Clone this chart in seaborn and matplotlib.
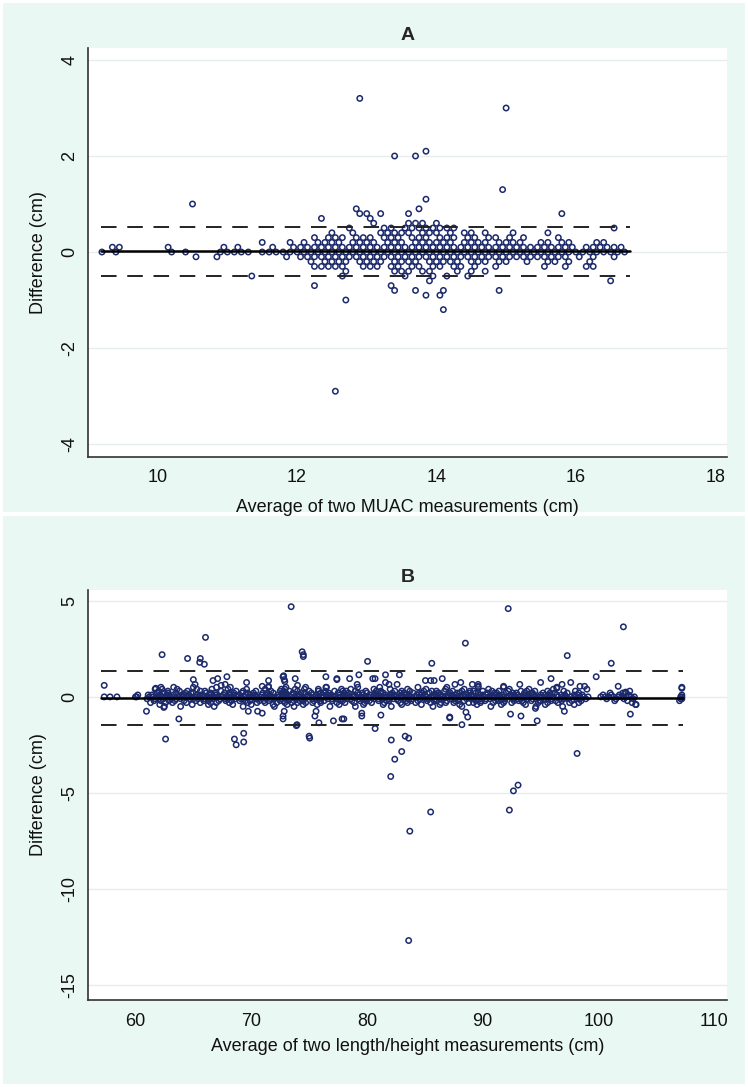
import numpy as np
import pandas as pd
import seaborn as sns
import matplotlib.pyplot as plt
from matplotlib.patches import Rectangle

# ---- Panel A: MUAC (cm), points grouped by difference level ----
a_row_0 = [9.2, 9.4, 10.2, 10.4, 10.9, 11.0, 11.1, 11.2, 11.3, 11.5, 11.6, 11.7, 11.8, 11.9,
           12.0, 12.1, 12.2, 12.3, 12.4, 12.5, 12.6, 12.7, 12.8, 12.9, 13.0, 13.1, 13.2, 13.3,
           13.4, 13.5, 13.6, 13.7, 13.8, 13.9, 14.0, 14.1, 14.2, 14.3, 14.4, 14.5, 14.6, 14.7,
           14.8, 14.9, 15.0, 15.1, 15.2, 15.3, 15.4, 15.5, 15.6, 15.7, 15.8, 15.9, 16.0, 16.1,
           16.2, 16.3, 16.4, 16.5, 16.6, 16.7]
a_row_p1 = [9.35, 9.45, 10.15, 10.95, 11.15, 11.65, 11.95, 12.05, 12.15, 12.25, 12.35, 12.45,
            12.55, 12.65, 12.75, 12.85, 12.95, 13.05, 13.15, 13.25, 13.35, 13.45, 13.55, 13.65,
            13.75, 13.85, 13.95, 14.05, 14.15, 14.25, 14.35, 14.45, 14.55, 14.65, 14.75, 14.85,
            14.95, 15.05, 15.15, 15.25, 15.35, 15.45, 15.55, 15.65, 15.75, 15.85, 15.95, 16.15,
            16.25, 16.35, 16.45, 16.55, 16.65]
a_row_m1 = [10.55, 10.85, 11.85, 12.05, 12.15, 12.25, 12.35, 12.45, 12.55, 12.65, 12.75, 12.85,
            12.95, 13.05, 13.15, 13.25, 13.35, 13.45, 13.55, 13.65, 13.75, 13.85, 13.95, 14.05,
            14.15, 14.25, 14.35, 14.45, 14.55, 14.65, 14.75, 14.85, 14.95, 15.05, 15.15, 15.25,
            15.35, 15.45, 15.55, 15.65, 15.75, 15.85, 16.05, 16.25, 16.55]
a_row_p2 = [11.5, 11.9, 12.1, 12.3, 12.4, 12.5, 12.6, 12.8, 12.9, 13.0, 13.1, 13.3, 13.4, 13.5,
            13.7, 13.8, 13.9, 14.0, 14.1, 14.2, 14.4, 14.5, 14.6, 14.7, 14.9, 15.0, 15.1, 15.2,
            15.5, 15.6, 15.8, 15.9, 16.3, 16.4]
a_row_m2 = [12.2, 12.4, 12.5, 12.6, 12.7, 12.9, 13.0, 13.1, 13.2, 13.4, 13.5, 13.6, 13.7, 13.9,
            14.0, 14.1, 14.2, 14.3, 14.5, 14.6, 14.7, 14.9, 15.0, 15.3, 15.6, 15.7, 15.9, 16.2]
a_row_p3 = [12.25, 12.45, 12.55, 12.65, 12.85, 12.95, 13.05, 13.25, 13.35, 13.45, 13.65, 13.75,
            13.85, 14.05, 14.15, 14.25, 14.45, 14.55, 14.75, 14.85, 15.05, 15.25, 15.75]
a_row_m3 = [12.25, 12.35, 12.45, 12.55, 12.65, 12.95, 13.05, 13.15, 13.35, 13.45, 13.65, 13.75,
            13.95, 14.05, 14.25, 14.35, 14.55, 14.85, 15.55, 15.85, 16.15, 16.25]
a_row_p4 = [12.5, 12.8, 13.2, 13.3, 13.4, 13.5, 13.6, 13.8, 13.9, 14.0, 14.2, 14.4, 14.5, 14.7,
            15.1, 15.6]
a_row_m4 = [12.7, 13.4, 13.5, 13.6, 13.8, 13.9, 14.3, 14.5, 14.7]
a_row_p5 = [12.75, 13.25, 13.35, 13.55, 13.65, 13.75, 13.85, 13.95, 14.05, 14.15, 14.25, 16.55]
a_row_m5 = [11.35, 12.65, 13.55, 13.95, 14.15, 14.45]
a_out_avg = [13.1, 13.6, 13.7, 13.8, 14.0, 12.35, 13.05, 12.9, 13.0, 13.2, 13.6, 15.8,
             12.85, 13.75, 10.5, 13.85, 14.95, 13.4, 13.7, 13.85, 12.9, 15.0,
             13.9, 16.5, 12.25, 13.35, 13.4, 13.7, 14.1, 14.9, 13.85, 14.05, 12.7, 14.1, 12.55]
a_out_diff = [0.6, 0.6, 0.6, 0.6, 0.6, 0.7, 0.7, 0.8, 0.8, 0.8, 0.8, 0.8,
              0.9, 0.9, 1.0, 1.1, 1.3, 2.0, 2.0, 2.1, 3.2, 3.0,
              -0.6, -0.6, -0.7, -0.7, -0.8, -0.8, -0.8, -0.8, -0.9, -0.9, -1.0, -1.2, -2.9]
a_mean, a_upper, a_lower = 0.02, 0.53, -0.49

# ---- Panel B: length/height (cm) ----
b_row_0 = [57.3, 57.8, 58.4, 60.0, 60.1, 61.2, 61.5, 61.8, 62.0, 62.3, 62.6, 63.0, 63.4, 63.8,
           64.1, 64.4, 64.8, 65.1, 65.5, 65.9, 66.2, 66.5, 66.8, 67.1, 67.5, 67.8, 68.1, 68.4,
           68.8, 69.1, 69.4, 69.8, 70.1, 70.5, 70.8, 71.1, 71.4, 71.8, 72.1, 72.4, 72.8, 73.1,
           73.4, 73.8, 74.1, 74.4, 74.8, 75.1, 75.5, 75.8, 76.1, 76.5, 76.8, 77.1, 77.5, 77.8,
           78.1, 78.5, 78.8, 79.1, 79.5, 79.8, 80.1, 80.5, 80.8, 81.1, 81.5, 81.8, 82.1, 82.5,
           82.8, 83.1, 83.5, 83.8, 84.1, 84.5, 84.8, 85.1, 85.5, 85.8, 86.1, 86.5, 86.8, 87.1,
           87.5, 87.8, 88.1, 88.5, 88.8, 89.1, 89.5, 89.8, 90.1, 90.5, 90.8, 91.1, 91.5, 91.8,
           92.1, 92.5, 92.8, 93.1, 93.5, 93.8, 94.1, 94.5, 94.8, 95.1, 95.5, 95.8, 96.1, 96.5,
           96.9, 97.2, 97.6, 98.0, 98.4, 98.7, 99.1, 100.2, 100.6, 100.9, 101.3, 101.7, 102.0,
           102.4, 102.8, 103.1, 107.1, 107.2]
b_row_p1 = [60.2, 61.4, 62.1, 62.7, 63.3, 64.0, 64.6, 65.3, 65.8, 66.4, 67.0, 67.6, 68.2, 68.9,
            69.5, 70.3, 70.9, 71.6, 72.3, 72.9, 73.5, 74.2, 74.9, 75.6, 76.2, 76.9, 77.6, 78.3,
            78.9, 79.6, 80.3, 80.9, 81.6, 82.3, 83.0, 83.6, 84.3, 85.0, 85.7, 86.3, 87.0, 87.7,
            88.3, 89.0, 89.7, 90.3, 91.0, 91.7, 92.4, 93.0, 93.7, 94.4, 95.0, 95.7, 96.4, 97.1,
            97.9, 98.6, 100.4, 101.1, 101.8, 102.6, 107.2,
            61.1, 62.9, 64.2, 65.6, 66.9, 68.5, 69.9, 71.3, 72.7, 74.0, 75.3, 76.6, 78.0, 79.3,
            80.6, 82.0, 83.3, 84.7, 86.0, 87.3, 88.7, 90.0, 91.4, 92.7, 94.0, 95.4, 96.8, 98.2]
b_row_m1 = [61.0, 61.7, 62.4, 63.1, 63.9, 64.7, 65.4, 66.0, 66.7, 67.3, 68.0, 68.6, 69.3, 70.0,
            70.6, 71.3, 72.0, 72.6, 73.3, 73.9, 74.6, 75.3, 75.9, 76.6, 77.3, 77.9, 78.6, 79.3,
            79.9, 80.6, 81.3, 81.9, 82.6, 83.3, 83.9, 84.6, 85.3, 85.9, 86.6, 87.3, 87.9, 88.6,
            89.3, 89.9, 90.6, 91.3, 91.9, 92.6, 93.3, 93.9, 94.6, 95.3, 96.0, 96.7, 97.4, 98.1,
            98.9, 100.7, 101.5, 102.2, 103.0, 107.1,
            62.0, 63.5, 65.0, 66.4, 67.8, 69.1, 70.4, 71.7, 73.0, 74.3, 75.6, 77.0, 78.3, 79.6,
            81.0, 82.3, 83.6, 85.0, 86.3, 87.6, 89.0, 90.3, 91.6, 93.0, 94.3, 95.6, 97.0, 98.4]
b_row_p2 = [61.9, 62.5, 63.5, 64.3, 65.0, 66.1, 66.9, 67.7, 68.5, 69.2, 70.2, 71.0, 71.9, 72.7,
            73.0, 73.6, 74.3, 75.2, 76.0, 76.7, 77.5, 78.4, 79.2, 80.0, 80.7, 81.4, 82.2, 83.2,
            84.0, 84.7, 85.4, 86.2, 87.2, 88.0, 88.9, 89.6, 90.4, 91.2, 92.0, 92.9, 93.6, 94.3,
            95.2, 96.2, 97.3, 98.3, 101.0, 102.1, 102.3,
            62.8, 64.8, 66.5, 68.1, 69.7, 71.4, 72.9, 74.6, 76.3, 78.0, 79.6, 81.2, 82.9, 84.5,
            86.1, 87.8, 89.4, 91.0, 92.6, 94.2, 95.8]
b_row_m2 = [61.6, 62.2, 62.9, 64.2, 65.2, 66.3, 67.2, 68.3, 69.0, 69.9, 70.7, 71.5, 72.5, 73.2,
            73.7, 74.5, 75.4, 76.3, 77.0, 77.7, 78.7, 79.4, 80.2, 81.0, 81.7, 82.7, 83.4, 84.4,
            85.2, 86.0, 86.9, 87.6, 88.4, 89.4, 90.2, 91.1, 91.9, 92.7, 93.4, 94.2, 95.0, 95.9,
            96.8, 97.7, 98.5, 101.4, 102.5, 107.0,
            63.4, 65.9, 67.8, 69.5, 71.1, 72.8, 74.2, 76.0, 77.9, 79.9, 81.9, 83.8, 85.8, 87.9,
            89.9, 91.4, 93.1, 94.9, 96.3]
b_row_p3 = [62.0, 62.8, 64.5, 66.0, 67.4, 68.7, 70.4, 71.7, 72.8, 73.3, 74.0, 75.0, 76.4, 77.2,
            78.2, 79.0, 79.9, 81.2, 82.4, 83.7, 84.9, 85.6, 86.7, 87.4, 88.2, 89.2, 90.0, 91.4,
            92.2, 93.3, 94.5, 95.6, 97.0, 98.0, 102.7,
            63.8, 65.6, 69.3, 72.5, 75.8, 77.9, 80.8, 83.0, 86.0, 88.9, 90.8, 93.8]
b_row_m3 = [61.3, 62.6, 63.2, 65.6, 67.0, 68.1, 69.7, 71.2, 72.2, 72.9, 74.0, 74.7, 76.0, 77.4,
            78.9, 80.4, 81.5, 82.9, 84.2, 85.5, 86.4, 87.5, 88.8, 89.8, 90.9, 92.5, 93.5, 94.8,
            96.5, 97.5, 98.3, 102.9,
            64.4, 66.5, 70.5, 73.5, 75.3, 78.1, 79.8, 83.5, 86.8, 89.2, 91.8, 95.6]
b_row_p4 = [61.7, 62.3, 63.6, 65.3, 66.6, 68.0, 69.6, 71.2, 72.6, 72.9, 73.8, 74.6, 75.8, 77.8,
            78.6, 80.6, 82.0, 83.5, 85.1, 86.8, 88.4, 90.5, 92.3, 94.0, 96.1, 99.0]
b_row_m4 = [62.1, 64.9, 66.3, 68.4, 70.0, 71.9, 73.1, 74.5, 75.7, 77.6, 79.7, 81.4, 83.0, 84.7,
            86.3, 88.0, 89.5, 91.6, 93.7, 95.4, 97.9, 103.2]
b_row_p5 = [62.2, 63.3, 65.0, 67.0, 68.2, 71.5, 73.0, 74.7, 76.5, 79.2, 81.1, 84.4, 86.9, 89.6,
            91.8, 96.4, 107.2]
b_row_m5 = [62.5, 63.9, 66.8, 69.3, 72.0, 73.7, 76.8, 79.0, 82.1, 85.7, 88.2, 90.7, 94.6, 96.9]
b_out_avg = [57.3, 60.95, 61.75, 62.3, 62.6, 62.45, 63.75, 64.5, 65.0, 65.15, 65.55, 65.6, 65.95,
             66.05, 66.7, 67.1, 67.4, 67.75, 67.9, 68.55, 68.7, 69.35, 69.35, 69.6, 69.75, 70.55,
             70.95, 70.95, 71.5, 71.5, 72.75, 72.75, 72.85, 72.75, 72.8, 72.85, 72.9, 73.45, 73.8,
             73.9, 73.95, 74.0, 74.4, 74.5, 74.5, 75.0, 75.05, 75.5, 75.6, 75.85, 76.45, 76.45,
             77.1, 77.4, 77.4, 77.85, 78.0, 78.5, 79.3, 79.15, 79.55, 79.55, 80.05, 80.5, 80.7,
             80.7, 81.2, 81.6, 81.6, 81.9, 82.1, 82.05, 82.4, 82.6, 82.8, 83.0, 83.3, 83.6,
             85.6, 85.05, 85.5, 85.8, 86.5, 87.15, 87.15, 87.6, 88.1, 88.2, 88.5, 88.7, 88.55,
             89.1, 89.6, 89.6, 91.8, 92.2, 92.4, 93.2, 93.3, 94.55, 94.7, 95.0, 95.9, 96.4, 96.85,
             97.05, 97.3, 97.6, 98.15, 98.4, 98.8, 99.8, 101.1, 101.7, 102.15, 102.35, 102.75,
             103.25, 107.2, 107.2, 83.6, 83.7, 85.5, 92.3, 92.65, 93.05]
b_out_diff = [0.6, -0.75, 0.45, 2.2, -2.2, -0.55, -1.15, 2.0, 0.9, 0.65, 1.8, 2.0, 1.7,
              3.1, 0.85, 0.95, 0.6, 0.65, 1.05, -2.2, -2.5, -1.9, -2.35, 0.75, -0.75, -0.75,
              -0.85, 0.55, 0.55, 0.85, -1.0, -1.15, -0.75, 1.05, 1.1, 0.9, 0.8, 4.7, 0.95,
              -1.5, -1.45, 0.6, 2.35, 2.2, 2.1, -2.05, -2.15, -1.0, -0.75, -1.35, 1.05, 0.5,
              -1.25, 0.9, 0.95, -1.15, -1.15, 0.95, 1.15, 0.65, -0.85, -1.0, 1.85, 0.95, 0.95,
              -1.65, -0.95, 1.15, 0.75, 0.65, -2.25, -4.15, -3.25, 0.65, 1.15, -2.85, -2.05, -2.15,
              1.75, 0.85, 0.85, 0.85, 0.95, -1.05, -1.1, 0.65, 0.75, -1.45, 2.8, -1.05, -0.8,
              0.65, 0.65, 0.55, 0.55, 4.6, -0.9, 0.65, -1.0, -0.6, -1.25, 0.75, 0.95, 0.45, 0.65,
              -0.75, 2.15, 0.75, -2.95, 0.55, 0.55, 1.05, 1.75, 0.55, 3.65, 0.25, -0.9,
              -0.4, 0.45, -0.1, -12.7, -7.0, -6.0, -5.9, -4.9, -4.6]
b_mean, b_upper, b_lower = -0.05, 1.37, -1.48


def build(rows, out_avg, out_diff):
    frames = [pd.DataFrame({"avg": xs, "diff": d}) for d, xs in rows]
    frames.append(pd.DataFrame({"avg": out_avg, "diff": out_diff}))
    return pd.concat(frames, ignore_index=True)


df_a = build([(0.0, a_row_0), (0.1, a_row_p1), (-0.1, a_row_m1), (0.2, a_row_p2),
              (-0.2, a_row_m2), (0.3, a_row_p3), (-0.3, a_row_m3), (0.4, a_row_p4),
              (-0.4, a_row_m4), (0.5, a_row_p5), (-0.5, a_row_m5)], a_out_avg, a_out_diff)
df_b = build([(0.0, b_row_0), (0.1, b_row_p1), (-0.1, b_row_m1), (0.2, b_row_p2),
              (-0.2, b_row_m2), (0.3, b_row_p3), (-0.3, b_row_m3), (0.4, b_row_p4),
              (-0.4, b_row_m4), (0.5, b_row_p5), (-0.5, b_row_m5)], b_out_avg, b_out_diff)

sns.set_theme(style="white")
plt.rcParams["font.family"] = ["Liberation Sans", "DejaVu Sans"]

mint = "#eaf8f4"
navy = "#1c2a6c"
W, H = 748, 1087
fig = plt.figure(figsize=(W / 100, H / 100), dpi=100, facecolor="white")

# mint panels (two stacked graphs), drawn behind the axes
for top, bot in [(3, 512), (516, 1084)]:
    fig.patches.append(Rectangle((3 / W, 1 - bot / H), 742 / W, (bot - top) / H,
                                 transform=fig.transFigure, facecolor=mint,
                                 edgecolor="none", zorder=-10))


def panel(rect, df, xlim, ylim, xticks, yticks, title, xlabel, lines, xspan, xlab_y):
    l, t, r, b = rect
    ax = fig.add_axes([l / W, 1 - b / H, (r - l) / W, (b - t) / H])
    ax.set_facecolor("white")
    for y in yticks:
        ax.axhline(y, color="#e6ebeb", lw=1.0, zorder=0)
    sns.scatterplot(data=df, x="avg", y="diff", ax=ax, marker="o", s=15,
                    facecolors="none", edgecolor=navy, linewidth=1.1, zorder=3)
    mean, up, lo = lines
    ax.plot(xspan, [mean, mean], color="black", lw=1.8, zorder=4)
    ax.plot(xspan, [up, up], color="#222222", lw=1.4, ls=(0, (8, 5.5)), zorder=4)
    ax.plot(xspan, [lo, lo], color="#222222", lw=1.4, ls=(0, (8, 5.5)), zorder=4)
    ax.set_xlim(*xlim)
    ax.set_ylim(*ylim)
    ax.set_xticks(xticks)
    ax.set_yticks(yticks)
    ax.set_yticklabels([str(v) for v in yticks], rotation=90, va="center")
    for s in ["top", "right"]:
        ax.spines[s].set_visible(False)
    for s in ["left", "bottom"]:
        ax.spines[s].set_color("#333333")
        ax.spines[s].set_linewidth(1.2)
    ax.tick_params(axis="both", direction="out", length=5, width=1.1, color="#333333",
                   labelsize=13, labelcolor="#111111", pad=4)
    ax.tick_params(axis="y", pad=2)
    ax.set_title(title, fontsize=14, fontweight="bold", pad=6)
    ax.set_xlabel(xlabel, fontsize=13, color="#111111")
    ax.set_ylabel("Difference (cm)", fontsize=13, color="#111111")
    ax.xaxis.set_label_coords(0.5, xlab_y)
    ax.yaxis.set_label_coords(-0.064, 0.5)
    return ax


panel((88, 48, 727, 457), df_a, (9.0, 18.17), (-4.27, 4.25), [10, 12, 14, 16, 18],
      [-4, -2, 0, 2, 4], "A", "Average of two MUAC measurements (cm)",
      (a_mean, a_upper, a_lower), [9.18, 16.78], -0.103)
panel((88, 590, 727, 1000), df_b, (55.9, 111.1), (-15.8, 5.57), [60, 70, 80, 90, 100, 110],
      [-15, -10, -5, 0, 5], "B", "Average of two length/height measurements (cm)",
      (b_mean, b_upper, b_lower), [57.0, 107.3], -0.093)

fig.savefig("out.png", dpi=100, facecolor="white")
